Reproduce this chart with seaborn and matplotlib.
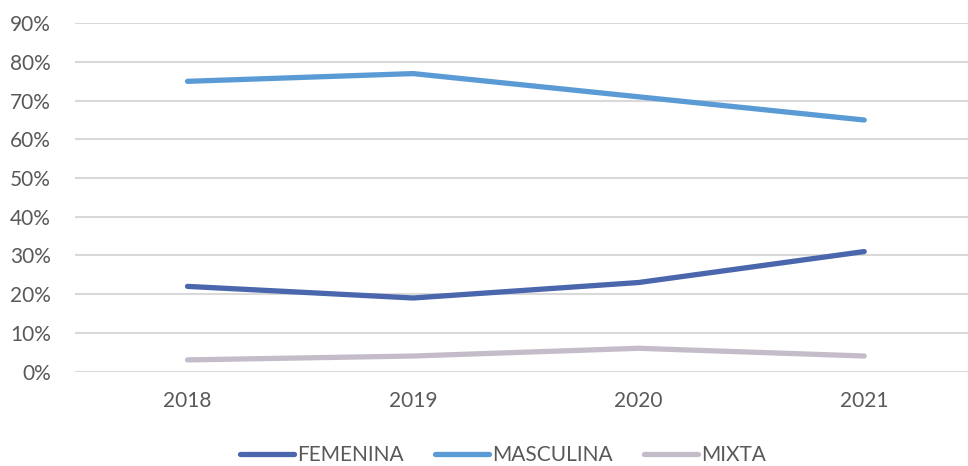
import matplotlib
matplotlib.use("Agg")
import matplotlib.pyplot as plt
from matplotlib.ticker import PercentFormatter
import seaborn as sns
import pandas as pd

years = ["2018", "2019", "2020", "2021"]
femenina = [0.22, 0.19, 0.23, 0.31]
masculina = [0.75, 0.77, 0.71, 0.65]
mixta = [0.03, 0.04, 0.06, 0.04]
series_names = ["FEMENINA", "MASCULINA", "MIXTA"]
colors = ["#4A66AC", "#5B9BD5", "#C4BDC9"]

rows = []
for name, vals in zip(series_names, [femenina, masculina, mixta]):
    for i, v in enumerate(vals):
        rows.append({"pos": i, "year": years[i], "valor": v, "serie": name})
df = pd.DataFrame(rows)

sns.set_theme(style="white")
plt.rcParams["font.family"] = ["Lato", "DejaVu Sans"]

fig = plt.figure(figsize=(9.68, 4.66), dpi=100)
ax = fig.add_axes([74.75 / 968, 1 - 371.5 / 466, (977 - 74.75) / 968, (371.5 - 23.3) / 466])

sns.lineplot(data=df, x="pos", y="valor", hue="serie", hue_order=series_names,
             palette=colors, linewidth=3.8, solid_capstyle="round", ax=ax,
             legend=False, zorder=3)

ax.set_xlim(-0.5, 3.5)
ax.set_ylim(0, 0.9)
ax.set_yticks([i / 10 for i in range(10)])
ax.yaxis.set_major_formatter(PercentFormatter(1.0, decimals=0))
ax.set_xticks(range(len(years)))
ax.set_xticklabels(years)
ax.set_xlabel("")
ax.set_ylabel("")
ax.grid(axis="y", color="#D9D9D9", linewidth=1.5)
ax.grid(axis="x", visible=False)
for s in ax.spines.values():
    s.set_visible(False)
ax.tick_params(axis="both", length=0, labelsize=15, labelcolor="#595959")
ax.tick_params(axis="x", pad=14)
ax.tick_params(axis="y", pad=17)
for lab in ax.get_yticklabels():
    lab.set_horizontalalignment("right")

handles = [plt.Line2D([0], [0], color=c, linewidth=3.8, solid_capstyle="round") for c in colors]
fig.legend(handles, series_names, loc="center", bbox_to_anchor=(503 / 968, 1 - 455 / 466),
           ncol=3, frameon=False, fontsize=15, handlelength=2.6, handletextpad=0.15,
           columnspacing=1.5, labelcolor="#595959")

fig.savefig("out.png", dpi=100)
